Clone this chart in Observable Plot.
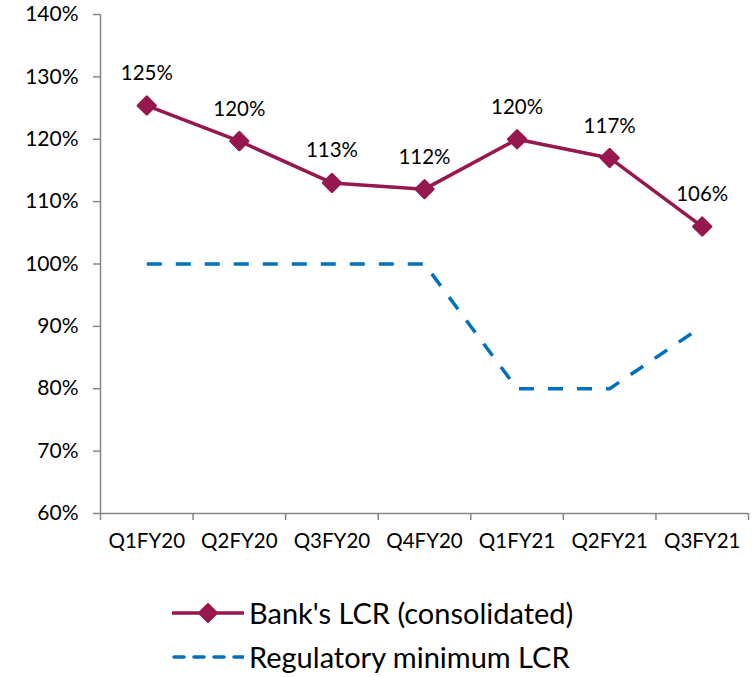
<!DOCTYPE html>
<html><head><meta charset="utf-8">
<script src="https://cdn.jsdelivr.net/npm/d3@7"></script>
<script src="https://cdn.jsdelivr.net/npm/@observablehq/plot@0.6"></script>
<style>
body{margin:0;background:#fff;font-family:Lato,"Noto Sans",sans-serif;}
#legend{position:relative;width:754px;height:117px;}
.lg{position:absolute;left:172px;height:34px;line-height:34px;display:flex;align-items:center;font-size:29px;color:#000;white-space:nowrap;}
.lg svg{margin-right:5px}
</style></head><body>
<div id="chart"></div>
<div id="legend"></div>
<script>
const categories = ["Q1FY20","Q2FY20","Q3FY20","Q4FY20","Q1FY21","Q2FY21","Q3FY21"];
const bankLCR = [125.4, 119.7, 113, 112, 120, 117, 106];
const bankLabels = ["125%","120%","113%","112%","120%","117%","106%"];
const regMin = [100, 100, 100, 100, 80, 80, 90];
const yTicks = [60,70,80,90,100,110,120,130,140];
const seriesNames = ["Bank's LCR (consolidated)", "Regulatory minimum LCR"];
const colors = ["#97174F", "#0070C0"];

const bank = categories.map((c,i)=>({i, v: bankLCR[i], label: bankLabels[i]}));
const reg = categories.map((c,i)=>({i, v: regMin[i]}));
const bounds = d3.range(categories.length+1).map(k=>k-0.5);
const axisColor = "#868686";

const plot = Plot.plot({
  width: 754, height: 560,
  marginLeft: 100, marginTop: 14, marginBottom: 47, marginRight: 6,
  style: {fontFamily: "Lato, 'Noto Sans', sans-serif", fontSize: "21px", color: "#000", background: "#fff"},
  x: {type: "linear", domain: [-0.5, categories.length-0.5], axis: null},
  y: {domain: [60,140], axis: null},
  marks: [
    Plot.axisY(yTicks, {tickSize: 7, tickPadding: 15, stroke: axisColor, strokeWidth: 1.5, tickFormat: d=>d+"%", fontSize: 21, fill: "#000", label: null}),
    Plot.axisX(bounds, {tickSize: 7, tickFormat: ()=>"", stroke: axisColor, strokeWidth: 1.5, label: null}),
    Plot.axisX(d3.range(categories.length), {tickSize: 0, tickPadding: 20, tickFormat: i=>categories[i], fontSize: 20.5, fill: "#000", label: null}),
    Plot.ruleX([-0.5], {stroke: axisColor, strokeWidth: 1.5}),
    Plot.ruleY([60], {stroke: axisColor, strokeWidth: 1.5}),
    Plot.line(reg, {x:"i", y:"v", stroke: colors[1], strokeWidth: 3.5, strokeDasharray: "15,14", strokeLinecap: "butt"}),
    Plot.line(bank, {x:"i", y:"v", stroke: colors[0], strokeWidth: 3.5}),
    Plot.dot(bank, {x:"i", y:"v", symbol: "diamond2", r: 8, fill: colors[0], stroke: colors[0], strokeWidth: 2.5, strokeLinejoin: "round"}),
    Plot.text(bank, {x:"i", y:"v", text:"label", dy: -32, fontSize: 20.5, fill: "#000"})
  ]
});
document.getElementById("chart").appendChild(plot);

const lg = document.getElementById("legend");
lg.innerHTML = `
<div class="lg" style="top:36px"><svg width="72" height="20"><line x1="0" y1="10" x2="72" y2="10" stroke="${colors[0]}" stroke-width="3.5"/><path d="M36,1 L45,10 L36,19 L27,10 Z" fill="${colors[0]}" stroke="${colors[0]}" stroke-width="2" stroke-linejoin="round"/></svg><span>${seriesNames[0]}</span></div>
<div class="lg" style="top:80px"><svg width="72" height="20"><line x1="2" y1="10" x2="72" y2="10" stroke="${colors[1]}" stroke-width="3.5" stroke-dasharray="10,10" stroke-linecap="round"/></svg><span>${seriesNames[1]}</span></div>`;
</script>
</body></html>
